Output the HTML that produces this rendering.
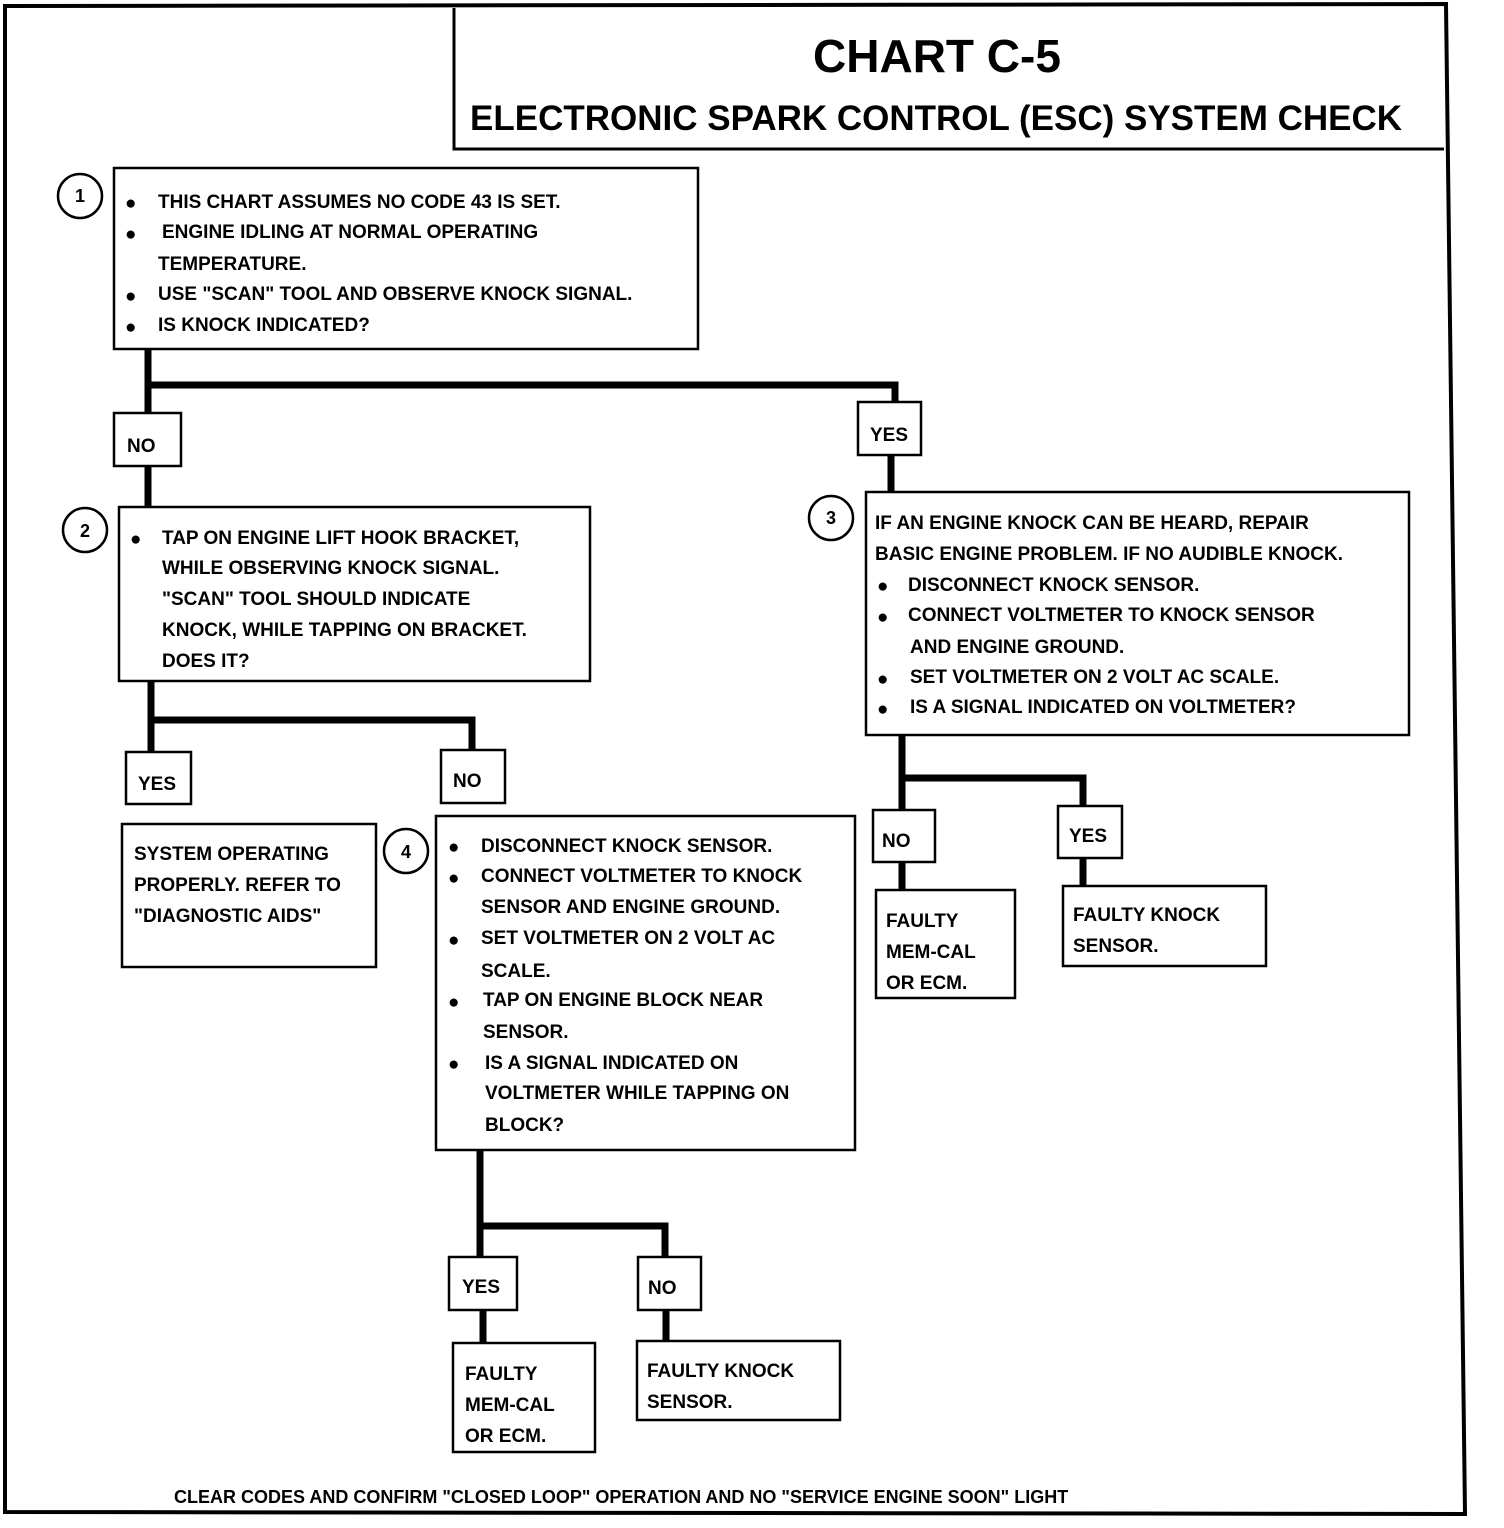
<!DOCTYPE html>
<html><head><meta charset="utf-8"><style>
html,body{margin:0;padding:0;background:#fff;}
svg{display:block;}
text{font-family:"Liberation Sans",sans-serif;font-weight:bold;fill:#000;}
.t{font-size:19px;}
</style></head><body>
<svg width="1504" height="1528" viewBox="0 0 1504 1528" xmlns="http://www.w3.org/2000/svg">
<g fill="none" stroke="#000">
<path d="M5 6 L1446 4 L1465 1514 L5 1512 Z" stroke-width="4"/>
<path d="M454 8 V149 H1444" stroke-width="3"/>
<!-- connectors -->
<g stroke-width="7">
<path d="M148 348 V413 M148 385 H895 V402 M148 466 V510"/>
<path d="M891 455 V492"/>
<path d="M151 681 V752 M151 720 H472 V750"/>
<path d="M480 1150 V1257 M480 1226 H665 V1257 M483 1310 V1343 M666 1310 V1341"/>
<path d="M902 735 V810 M902 778 H1083 V806 M902 862 V890 M1083 858 V886"/>
</g>
<g stroke-width="2.5" fill="#fff">
<rect x="114" y="168" width="584" height="181"/>
<rect x="114" y="413" width="67" height="53"/>
<rect x="858" y="402" width="63" height="53"/>
<rect x="119" y="507" width="471" height="174"/>
<rect x="126" y="752" width="65" height="52"/>
<rect x="441" y="750" width="64" height="53"/>
<rect x="122" y="824" width="254" height="143"/>
<rect x="436" y="816" width="419" height="334"/>
<rect x="449" y="1257" width="68" height="53"/>
<rect x="638" y="1257" width="63" height="53"/>
<rect x="453" y="1343" width="142" height="109"/>
<rect x="637" y="1341" width="203" height="79"/>
<rect x="866" y="492" width="543" height="243"/>
<rect x="873" y="810" width="62" height="52"/>
<rect x="1058" y="806" width="64" height="52"/>
<rect x="876" y="890" width="139" height="108"/>
<rect x="1063" y="886" width="203" height="80"/>
<circle cx="80" cy="196" r="22"/>
<circle cx="85" cy="530" r="22"/>
<circle cx="831" cy="518" r="22"/>
<circle cx="406" cy="851" r="22"/>
</g>
</g>
<text x="937" y="72" font-size="46" text-anchor="middle">CHART C-5</text>
<text x="470" y="130" font-size="35">ELECTRONIC SPARK CONTROL (ESC) SYSTEM CHECK</text>
<g font-size="18" text-anchor="middle">
<text x="80" y="202">1</text><text x="85" y="537">2</text><text x="831" y="524">3</text><text x="406" y="858">4</text>
</g>
<g class="t">
<text x="125" y="209">●</text><text x="158" y="208">THIS CHART ASSUMES NO CODE 43 IS SET.</text>
<text x="125" y="240">●</text><text x="162" y="238">ENGINE IDLING AT NORMAL OPERATING</text>
<text x="158" y="270">TEMPERATURE.</text>
<text x="125" y="302">●</text><text x="158" y="300">USE "SCAN" TOOL AND OBSERVE KNOCK SIGNAL.</text>
<text x="125" y="333">●</text><text x="158" y="331">IS KNOCK INDICATED?</text>
<text x="127" y="452">NO</text>
<text x="870" y="441">YES</text>
<text x="130" y="545">●</text><text x="162" y="544">TAP ON ENGINE LIFT HOOK BRACKET,</text>
<text x="162" y="574">WHILE OBSERVING KNOCK SIGNAL.</text>
<text x="162" y="605">"SCAN" TOOL SHOULD INDICATE</text>
<text x="162" y="636">KNOCK, WHILE TAPPING ON BRACKET.</text>
<text x="162" y="667">DOES IT?</text>
<text x="138" y="790">YES</text>
<text x="453" y="787">NO</text>
<text x="134" y="860">SYSTEM OPERATING</text>
<text x="134" y="891">PROPERLY.  REFER TO</text>
<text x="134" y="922">"DIAGNOSTIC AIDS"</text>
<text x="448" y="853">●</text><text x="481" y="852">DISCONNECT KNOCK SENSOR.</text>
<text x="448" y="884">●</text><text x="481" y="882">CONNECT VOLTMETER TO KNOCK</text>
<text x="481" y="913">SENSOR AND ENGINE GROUND.</text>
<text x="448" y="946">●</text><text x="481" y="944">SET VOLTMETER ON 2 VOLT AC</text>
<text x="481" y="977">SCALE.</text>
<text x="448" y="1008">●</text><text x="483" y="1006">TAP ON ENGINE BLOCK NEAR</text>
<text x="483" y="1038">SENSOR.</text>
<text x="448" y="1070">●</text><text x="485" y="1069">IS A SIGNAL INDICATED ON</text>
<text x="485" y="1099">VOLTMETER WHILE TAPPING ON</text>
<text x="485" y="1131">BLOCK?</text>
<text x="462" y="1293">YES</text>
<text x="648" y="1294">NO</text>
<text x="465" y="1380">FAULTY</text>
<text x="465" y="1411">MEM-CAL</text>
<text x="465" y="1442">OR ECM.</text>
<text x="647" y="1377">FAULTY KNOCK</text>
<text x="647" y="1408">SENSOR.</text>
<text x="875" y="529">IF AN ENGINE KNOCK CAN BE HEARD, REPAIR</text>
<text x="875" y="560">BASIC ENGINE PROBLEM.  IF NO AUDIBLE KNOCK.</text>
<text x="877" y="592">●</text><text x="908" y="591">DISCONNECT KNOCK SENSOR.</text>
<text x="877" y="623">●</text><text x="908" y="621">CONNECT VOLTMETER TO KNOCK SENSOR</text>
<text x="910" y="653">AND ENGINE GROUND.</text>
<text x="877" y="685">●</text><text x="910" y="683">SET VOLTMETER ON 2 VOLT AC SCALE.</text>
<text x="877" y="715">●</text><text x="910" y="713">IS A SIGNAL INDICATED ON VOLTMETER?</text>
<text x="882" y="847">NO</text>
<text x="1069" y="842">YES</text>
<text x="886" y="927">FAULTY</text>
<text x="886" y="958">MEM-CAL</text>
<text x="886" y="989">OR ECM.</text>
<text x="1073" y="921">FAULTY KNOCK</text>
<text x="1073" y="952">SENSOR.</text>
<text x="174" y="1503" font-size="18">CLEAR CODES AND CONFIRM "CLOSED LOOP" OPERATION AND NO  "SERVICE ENGINE SOON"  LIGHT</text>
</g>
</svg>
</body></html>
